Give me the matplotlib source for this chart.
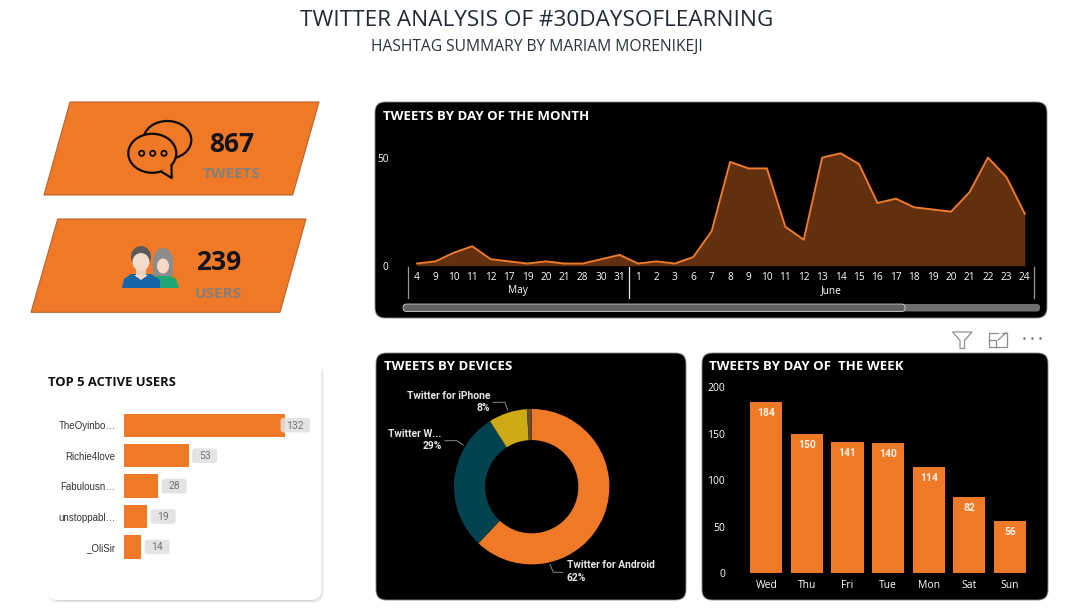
import matplotlib
matplotlib.use("Agg")
import matplotlib.pyplot as plt
from matplotlib.patches import FancyBboxPatch, Polygon, Ellipse, Circle, Rectangle
from matplotlib.transforms import blended_transform_factory

W, H = 1076, 614
ORANGE = "#F07927"
FONT = "Open Sans"
LABEL = "Roboto"

total_tweets = "867"
total_users = "239"

day_labels = ["4", "9", "10", "11", "12", "17", "19", "20", "21", "28", "30", "31",
              "1", "2", "3", "6", "7", "8", "9", "10", "11", "12", "13", "14", "15",
              "16", "17", "18", "19", "20", "21", "22", "23", "24"]
day_tweets = [1, 2, 6, 9, 3, 2, 1, 2, 1, 1, 3, 5,
              1, 2, 1, 4, 16, 48, 45, 45, 18, 12, 50, 52, 47,
              29, 31, 27, 26, 25, 34, 50, 41, 24]
months = ["May", "June"]
month_counts = [12, 22]

users = ["TheOyinbo…", "Richie4love", "Fabulousn…", "unstoppabl…", "_OliSir"]
user_tweets = [132, 53, 28, 19, 14]

devices = ["Twitter for Android", "Twitter W...", "Twitter for iPhone", "Other"]
device_share = [62, 29, 8, 1]
device_colors = [ORANGE, "#03434F", "#CCA915", "#6B4A30"]

weekdays = ["Wed", "Thu", "Fri", "Tue", "Mon", "Sat", "Sun"]
weekday_tweets = [184, 150, 141, 140, 114, 82, 56]

fig = plt.figure(figsize=(W / 100, H / 100), dpi=100, facecolor="white")


def px_axes(x0, y0, x1, y1, **kw):
    ax = fig.add_axes([x0 / W, 1 - y1 / H, (x1 - x0) / W, (y1 - y0) / H], **kw)
    ax.patch.set_alpha(0)
    return ax


bg = fig.add_axes([0, 0, 1, 1])
bg.set_xlim(0, W)
bg.set_ylim(H, 0)
bg.axis("off")


def panel(x0, y0, x1, y1, color="black", radius=10, **kw):
    p = FancyBboxPatch((x0, y0), x1 - x0, y1 - y0,
                       boxstyle=f"round,pad=0,rounding_size={radius}",
                       fc=color, ec=kw.pop("ec", "none"), **kw)
    bg.add_patch(p)
    return p


# Header
bg.text(537, 21, "TWITTER ANALYSIS OF #30DAYSOFLEARNING", ha="center", va="center",
        fontsize=16.2, color="#222A33", family=FONT)
bg.text(537, 47, "HASHTAG SUMMARY BY MARIAM MORENIKEJI", ha="center", va="center",
        fontsize=11.25, color="#2B333C", family=FONT)

# KPI cards
for pts in ([(70, 102), (319, 102), (292.7, 195), (44, 195)],
            [(57.7, 219), (306, 219), (280, 312.3), (31, 312.3)]):
    bg.add_patch(Polygon(pts, closed=True, fc=ORANGE, ec="#B5652C", lw=0.8))

bg.text(231.5, 144, total_tweets, ha="center", va="center", fontsize=19, fontweight="bold",
        color="#14141C", family=FONT)
bg.text(232, 174, "TWEETS", ha="center", va="center", fontsize=11, fontweight="bold",
        color="#86807A", family=FONT)
bg.text(218.5, 262.5, total_users, ha="center", va="center", fontsize=19, fontweight="bold",
        color="#14141C", family=FONT)
bg.text(218, 293.5, "USERS", ha="center", va="center", fontsize=11, fontweight="bold",
        color="#86807A", family=FONT)

# Chat icon
bg.add_patch(Ellipse((167.3, 140), 48, 38, fc="none", ec="#0C0C0C", lw=1.6))
bg.add_patch(Ellipse((152.3, 153.3), 48, 39, fc=ORANGE, ec="#0C0C0C", lw=1.6, zorder=3))
bg.add_patch(Polygon([(161, 171), (171.7, 178), (171, 164)], closed=True, fc=ORANGE, ec="none", zorder=3.1))
bg.plot([161, 171.7, 171.5], [171.5, 178, 165], color="#0C0C0C", lw=1.6, zorder=3.2, solid_capstyle="round")
for cx in (141.7, 152.7, 164):
    bg.add_patch(Circle((cx, 153.3), 2.6, fc="none", ec="#0C0C0C", lw=1.3, zorder=3.3))

# People icon
bg.add_patch(Polygon([(153, 288), (179, 288), (176, 279), (167, 274), (160, 274), (154, 278)],
                     closed=True, fc="#1FA672", ec="none", zorder=3))
bg.add_patch(Ellipse((163, 261), 20, 26, fc="#8C8C8C", ec="none", zorder=3))
bg.add_patch(Rectangle((153, 261), 20, 15, fc="#8C8C8C", ec="none", zorder=3))
bg.add_patch(Ellipse((163, 266), 12, 15, fc="#F5DAC6", ec="none", zorder=3.1))
bg.add_patch(Polygon([(122, 288), (160, 288), (160, 280), (151, 274), (131, 274), (124, 279)],
                     closed=True, fc="#1565A8", ec="none", zorder=3.3))
bg.add_patch(Polygon([(134, 275), (148, 275), (141, 280)], closed=True, fc="#F2DCCB", ec="none", zorder=3.4))
bg.add_patch(Rectangle((136, 262), 10, 15, fc="#EAD0BC", ec="none", zorder=3.3))
bg.add_patch(Ellipse((141, 257), 20, 22, fc="#5A5A5A", ec="none", zorder=3.4))
bg.add_patch(Ellipse((141, 262), 17, 18, fc="#F2DCCB", ec="none", zorder=3.5))

# Top users card
for i, a in enumerate((0.05, 0.08, 0.14, 0.25)):
    panel(47 + i, 364 + i, 324 - i, 603 - i, color="#555555", radius=11, alpha=a)
panel(47, 361, 321.5, 600, color="white", radius=10)
bg.text(48, 382, "TOP 5 ACTIVE USERS", ha="left", va="center", fontsize=9.4,
        fontweight="bold", color="#111111", family=FONT)

# Dark panels
panel(375, 102, 1047, 318, ec="#8A8A8A", lw=0.6)
panel(376, 353, 686, 600, ec="#8A8A8A", lw=0.6)
panel(702, 353, 1048, 600, ec="#8A8A8A", lw=0.6)
bg.text(383, 116, "TWEETS BY DAY OF THE MONTH", ha="left", va="center", fontsize=9.5,
        fontweight="bold", color="white", family=FONT)
bg.text(384, 367, "TWEETS BY DEVICES", ha="left", va="center", fontsize=9.5,
        fontweight="bold", color="white", family=FONT)
bg.text(709, 367, "TWEETS BY DAY OF  THE WEEK", ha="left", va="center", fontsize=9.5,
        fontweight="bold", color="white", family=FONT)

# Scroll bar
panel(403, 304, 1040, 311.5, color="#707070", radius=3.5)
panel(403, 304, 905, 311.5, color="#626262", radius=3.5, ec="#E8E8E8", lw=0.5)

# Area chart
ax1 = px_axes(407.8, 136, 1034, 265.7)
positions = list(range(len(day_tweets)))
ax1.fill_between(positions, day_tweets, 0, color="#622F0F", lw=0)
ax1.plot(positions, day_tweets, color="#EE7A2B", lw=1.4)
ax1.set_xlim(-0.5, len(day_tweets) - 0.5)
ax1.set_ylim(0, 60)
ax1.set_xticks(positions, day_labels)
ax1.set_yticks([0, 50])
ax1.tick_params(axis="x", length=0, pad=4.5, colors="white", labelsize=7.3)
ax1.tick_params(axis="y", length=0, pad=14, colors="white", labelsize=7.3)
for lab in ax1.get_xticklabels() + ax1.get_yticklabels():
    lab.set_family(FONT)
for s in ax1.spines.values():
    s.set_visible(False)
trans = blended_transform_factory(ax1.transData, bg.transData)
start = -0.5
for j, (m, n) in enumerate(zip(months, month_counts)):
    ax1.text(start + n / 2, 291, m, transform=trans, ha="center", va="center",
             color="white", fontsize=7.3, family=FONT)
    ax1.plot([start, start], [266.5, 298], transform=trans, clip_on=False,
             color="#9A9A9A" if j == 0 else "#E8E8E8", lw=0.9)
    start += n
ax1.plot([start, start], [266.5, 298], transform=trans, clip_on=False, color="#9A9A9A", lw=0.9)

# Top users bars
ax2 = px_axes(124, 410, 307, 562.2)
ypos = list(range(len(users)))
ax2.barh(ypos, user_tweets, height=0.767, color=ORANGE)
ax2.set_xlim(0, 150)
ax2.set_ylim(len(users) - 0.5, -0.5)
ax2.set_yticks(ypos, users)
ax2.set_xticks([])
ax2.tick_params(axis="y", length=0, pad=6, labelsize=7, colors="#333333")
for lab in ax2.get_yticklabels():
    lab.set_family("Liberation Sans")
for s in ax2.spines.values():
    s.set_visible(False)
to_bg = ax2.transData + bg.transData.inverted()
for y, v in zip(ypos, user_tweets):
    bx, by = to_bg.transform((v, y))
    if v > 100:
        x0, x1 = bx - 4.5, bx + 25
    else:
        x0, x1 = bx + 3.5, bx + 28.5
    ax2.add_patch(FancyBboxPatch((x0, by - 7.3), x1 - x0, 14.6,
                                 boxstyle="round,pad=0,rounding_size=3", transform=bg.transData,
                                 fc="#E0E0E0", ec="none", alpha=0.88, clip_on=False, zorder=3))
    ax2.text((x0 + x1) / 2, by + 0.3, str(v), transform=bg.transData, ha="center", va="center",
             fontsize=7.5, color="#747474", family=LABEL, zorder=4)

# Donut chart
ax3 = px_axes(454, 409, 609.4, 564.4)
ax3.pie(device_share, colors=device_colors, startangle=90, counterclock=False, radius=1,
        wedgeprops=dict(width=0.4, lw=0))
ax3.set_xlim(-1, 1)
ax3.set_ylim(-1, 1)
ax3.set_aspect("equal")

LEADER = "#8A8A8A"
bg.plot([550, 553.3, 562.7], [564.3, 572.3, 572.3], color=LEADER, lw=0.7)
bg.plot([445, 456.7, 463.3], [440.7, 440.7, 445], color=LEADER, lw=0.7)
bg.plot([493.3, 505, 507.7], [402.3, 402.3, 410], color=LEADER, lw=0.7)
dl = dict(fontsize=7.4, fontweight="bold", color="#E6E6E6", va="center", family=LABEL)
bg.text(566.7, 565, devices[0], ha="left", **dl)
bg.text(566.7, 578, f"{device_share[0]}%", ha="left", **dl)
bg.text(441.7, 434.3, devices[1], ha="right", **dl)
bg.text(441.7, 446, f"{device_share[1]}%", ha="right", **dl)
bg.text(490.3, 396.3, devices[2], ha="right", **dl)
bg.text(490.3, 408, f"{device_share[2]}%", ha="right", **dl)

# Weekday bars
ax4 = px_axes(746, 387, 1030.3, 573.3)
xpos = list(range(len(weekdays)))
ax4.bar(xpos, weekday_tweets, width=0.79, color=ORANGE)
ax4.set_xlim(-0.5, len(weekdays) - 0.5)
ax4.set_ylim(0, 200)
ax4.set_xticks(xpos, weekdays)
ax4.set_yticks([0, 50, 100, 150, 200])
ax4.tick_params(axis="x", length=0, pad=4.5, colors="white", labelsize=7.5)
ax4.tick_params(axis="y", length=0, pad=15, colors="white", labelsize=7.5)
for lab in ax4.get_xticklabels() + ax4.get_yticklabels():
    lab.set_family(FONT)
for s in ax4.spines.values():
    s.set_visible(False)
for x, v in zip(xpos, weekday_tweets):
    ax4.annotate(str(v), (x, v), xytext=(0, -8), textcoords="offset points", ha="center",
                 va="center", fontsize=7.4, fontweight="bold", color="#FFF4E8", family=LABEL)

# Visual header icons
GREY = "#8E8E8E"
bg.add_patch(Polygon([(952.5, 332), (972, 332), (964.5, 340.5), (964.5, 348.5), (960, 348.5), (960, 340.5)],
                     closed=True, fc="none", ec=GREY, lw=0.9))
bg.plot([998, 988.5, 988.5, 1006.5, 1006.5], [332.5, 332.5, 346.5, 346.5, 337], color=GREY, lw=0.9)
bg.plot([988.5, 996, 996], [339.5, 339.5, 346.5], color=GREY, lw=0.9)
bg.plot([998, 1006.5], [340, 332.5], color=GREY, lw=0.9)
bg.plot([1001.5, 1006.5, 1006.5], [332.5, 332.5, 337], color=GREY, lw=0.9)
bg.scatter([1023.5, 1031.7, 1040], [337.7, 337.7, 337.7], s=3.5, color="#777777", lw=0)

fig.savefig("out.png", dpi=100, facecolor="white")
